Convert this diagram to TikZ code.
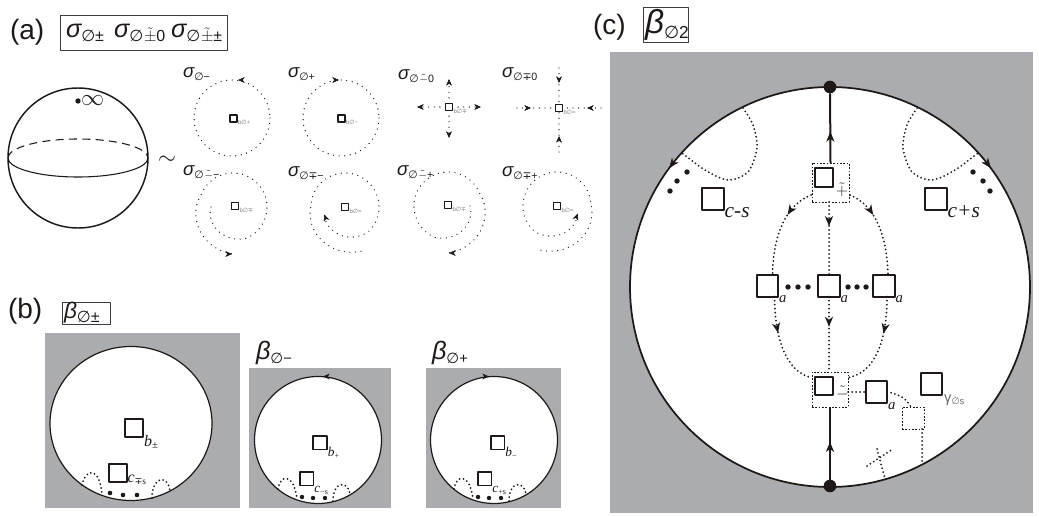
\documentclass[tikz,border=0pt]{standalone}
\usepackage{fontspec}
\setmainfont{Liberation Sans}
\newfontfamily\tms{Liberation Serif}
\newfontfamily\dvs{DejaVu Sans}
\usetikzlibrary{arrows.meta,decorations.markings,calc}
\definecolor{boxgray}{RGB}{171,172,176}
\definecolor{ink}{RGB}{30,25,22}
\newcommand{\fs}[1]{\fontsize{#1}{#1}\selectfont}
\newcommand{\emp}{{\dvs ∅}}
\newcommand{\mmp}{{\dvs ∓}}
\newcommand{\tpm}{\kern0.6pt\ensuremath{\tilde{\pm}}}
\newcommand{\tmi}{\kern0.6pt\ensuremath{\tilde{-}}}
\newcommand{\sbx}[2]{\raisebox{-0.3ex}{\fs{#1}\upshape #2}}
\newcommand{\sig}[3]{{\fs{#1}\itshape σ\sbx{#2}{#3}}}
\newcommand{\bet}[3]{{\fs{#1}\itshape β\sbx{#2}{#3}}}
\begin{document}
\begin{tikzpicture}[x=0.75pt, y=-0.75pt, line join=round, color=ink,
  declare function={spr(\q)=34-12*max(0,1-4*\q)+13*max(0,4*\q-3);},
  every node/.style={inner sep=0pt, outer sep=0pt},
  hdr/.style={draw=ink!85, line width=0.7pt},
  sqa/.style={draw, fill=white, line width=1.1pt, minimum size=5.3pt},
  sqb/.style={draw, fill=white, line width=1.5pt, minimum size=13.5pt},
  sqm/.style={draw, fill=white, line width=1.3pt, minimum size=10.3pt},
  sqc/.style={draw, fill=white, line width=1.6pt, minimum size=16pt},
  sqp/.style={draw, fill=white, line width=1.6pt, minimum size=14pt},
  dotA/.style={line width=1pt, line cap=round, dash pattern=on 0pt off 4.2pt},
  dotC/.style={line width=1.5pt, line cap=round, dash pattern=on 0pt off 3pt},
  dotbox/.style={draw, line width=0.7pt, dash pattern=on 1.2pt off 1.3pt},
  ahS/.style={postaction={decorate}, decoration={markings, mark=at position 0.5 with {\pgfsetdash{}{0pt}\arrow{Stealth[length=5pt,width=4.4pt,inset=1.4pt]}}}},
  ahC/.style={postaction={decorate}, decoration={markings, mark=at position #1 with {\pgfsetdash{}{0pt}\arrow{Stealth[length=7.5pt,width=6pt,inset=2.2pt]}}}},
  blob/.style={circle, fill, minimum size=#1},
  tiny/.style={font=\fs{4.5}, text=ink!55, anchor=north west},
  ital/.style={font={\tms\itshape\fs{#1}}, anchor=base west},
  panel/.style={anchor=west, font=\fs{21}},
]
\fill[white] (0,0) rectangle (1039,517);
\useasboundingbox (0,0) rectangle (1039,517);

% ================= (a)
\node[panel] (la) at (10,32) {(a)};
\draw[hdr] (60,15) rectangle (227,50);
\node[anchor=west] (sa1) at (66,33) {\sig{19}{12}{\emp±}};
\node[anchor=west] (sa2) at (114,33) {\sig{19}{12}{\emp\tpm0}};
\node[anchor=west] (sa3) at (171,33) {\sig{19}{12}{\emp\tpm±}};

% sphere
\draw[line width=1.1pt] (78,158) circle[radius=70];
\draw[line width=0.8pt] (148,158) arc[start angle=0, end angle=180, x radius=70, y radius=19];
\draw[line width=0.8pt, dash pattern=on 6pt off 4pt] (8,158) arc[start angle=180, end angle=360, x radius=70, y radius=19];
\node[blob=4pt] (infdot) at (78,101) {};
\node[anchor=west, font=\fs{16}] (inf) at (81,101) {$\infty$};
\node[font=\fs{18}] (tld) at (167,160) {$\sim$};

% circle 1
\draw[dotA] (232,118) circle[radius=38];
\path[ahS] (241,80) -- (235,80);
\node[sqa] (q1) at (233.5,118.5) {};
\node[tiny] (q1l) at ($(q1.south east)+(1,-1.5)$) {b\emp+};
\node[anchor=west] (s1) at (183,74) {\sig{14}{8}{\emp−}};

% circle 2
\draw[dotA] (341,118) circle[radius=38];
\path[ahS] (336,80) -- (342,80);
\node[sqa] (q2) at (341.5,118.5) {};
\node[tiny] (q2l) at ($(q2.south east)+(1,-1.5)$) {b\emp−};
\node[anchor=west] (s2) at (288,74) {\sig{14}{8}{\emp+}};

% circle 3 (source)
\node[sqa] (q3) at (449,107) {};
\draw[dotA] (q3.north) -- (449,80);
\draw[dotA] (q3.south) -- (449,137);
\draw[dotA] (q3.west) -- (418,107);
\draw[dotA] (q3.east) -- (480,107);
\path[ahS] (449,82) -- (449,76);
\path[ahS] (449,135) -- (449,141);
\path[ahS] (420,107) -- (414,107);
\path[ahS] (478,107) -- (484,107);
\node[tiny] (q3l) at ($(q3.south east)+(1,-1.5)$) {b\emp\mmp};
\node[anchor=west] (s3) at (398,77) {\sig{14}{8}{\emp\tmi0}};

% circle 4 (sink)
\draw[dotA] (559,68) -- (559,152);
\draw[dotA] (517,108) -- (601,108);
\path[ahS] (559,80) -- (559,86);
\path[ahS] (559,139) -- (559,133);
\path[ahS] (528,108) -- (534,108);
\path[ahS] (590,108) -- (584,108);
\node[sqa] (q4) at (559,108) {};
\node[tiny] (q4l) at ($(q4.south east)+(1,-1.5)$) {b\emp=};
\node[anchor=west] (s4) at (502,74) {\sig{14}{8}{\emp\mmp0}};

% circle 5
\draw[dotA] plot[domain=0:1, samples=160, smooth, variable=\u] ({233+spr(\u)*cos(180+450*\u)}, {207-spr(\u)*sin(180+450*\u)});
\path[ahS] (229,254) -- (235,254);
\node[sqa] (q5) at (235,206) {};
\node[tiny] (q5l) at ($(q5.south east)+(1,-1.5)$) {b\emp\mmp};
\node[anchor=west] (s5) at (183,173) {\sig{14}{8}{\emp\tmi−}};

% circle 6
\draw[dotA] plot[domain=0:1, samples=160, smooth, variable=\u] ({345+spr(1-\u)*cos(650-450*\u)}, {207-spr(1-\u)*sin(650-450*\u)});
\path[ahS] (325.3,217.3) -- (323.3,211.7);
\node[sqa] (q6) at (345,207) {};
\node[tiny] (q6l) at ($(q6.south east)+(1,-1.5)$) {b\emp=};
\node[anchor=west] (s6) at (288,173) {\sig{14}{8}{\emp\mmp−}};

% circle 7
\draw[dotA] plot[domain=0:1, samples=160, smooth, variable=\u] ({448+spr(\u)*cos(-450*\u)}, {206-spr(\u)*sin(-450*\u)});
\path[ahS] (452,253) -- (446,253);
\node[sqa] (q7) at (448,205) {};
\node[tiny] (q7l) at ($(q7.south east)+(1,-1.5)$) {b\emp\mmp};
\node[anchor=west] (s7) at (397,173) {\sig{14}{8}{\emp\tmi+}};

% circle 8
\draw[dotA] plot[domain=0:1, samples=160, smooth, variable=\u] ({557+spr(1-\u)*cos(-470+450*\u)}, {206-spr(1-\u)*sin(-470+450*\u)});
\path[ahS] (576.7,216.3) -- (578.7,210.7);
\node[sqa] (q8) at (557,206) {};
\node[tiny] (q8l) at ($(q8.south east)+(1,-1.5)$) {b\emp=};
\node[anchor=west] (s8) at (502,173) {\sig{14}{8}{\emp\mmp+}};

% ================= (b)
\node[panel] (lb) at (8,311) {(b)};
\draw[hdr] (62,302) rectangle (110,324);
\node[anchor=west] (hb) at (64,313) {\bet{17}{12}{\emp±}};

% box 1
\fill[boxgray] (45,333) rectangle (240,508);
\draw[line width=0.9pt, fill=white] (131,423.5) ellipse[x radius=81, y radius=77];
\draw[dotC] (82,485) .. controls (86,467) and (100,467) .. (102,495);
\draw[dotC] (152,498) .. controls (152,476) and (168,474) .. (170,491);
\fill (110,493) circle[radius=2.3];
\fill (123,495) circle[radius=2.3];
\fill (137,495) circle[radius=2.3];
\node[sqb] (b1) at (134,427.5) {};
\node[ital=12] (b1l) at ($(b1.south east)+(1,10)$) {b\sbx{8}{±}};
\node[sqb] (c1) at (117.5,472.5) {};
\node[ital=12] (c1l) at ($(c1.south east)+(1,1)$) {c\sbx{7}{\mmp s}};

% box 2
\node[anchor=west] (hb2) at (256,353) {\bet{19}{11}{\emp−}};
\fill[boxgray] (249,368) rectangle (391,508);
\draw[line width=0.9pt, fill=white] (318,440) circle[radius=63.5];
\path[ahS] (326,376.5) -- (320,376.5);
\draw[dotC] (278,489) .. controls (280,474) and (294,473) .. (297,499);
\draw[dotC] (333,501) .. controls (333,481) and (348,480) .. (350,494);
\fill (302,497) circle[radius=2.2];
\fill (313,498) circle[radius=2.2];
\fill (325,498) circle[radius=2.2];
\node[sqm] (b2) at (320,442.5) {};
\node[ital=10] (b2l) at ($(b2.south east)+(1,7)$) {b\sbx{6}{+}};
\node[sqm] (c2) at (306.5,478.5) {};
\node[ital=10] (c2l) at ($(c2.south east)+(1,7)$) {c\sbx{6}{−s}};

% box 3
\node[anchor=west] (hb3) at (432,353) {\bet{19}{11}{\emp+}};
\fill[boxgray] (426,368) rectangle (561,508);
\draw[line width=0.9pt, fill=white] (494,440) circle[radius=63.5];
\path[ahS] (486,376.5) -- (492,376.5);
\draw[dotC] (454,489) .. controls (456,474) and (470,473) .. (473,499);
\draw[dotC] (509,501) .. controls (509,481) and (524,480) .. (526,494);
\fill (478,497) circle[radius=2.2];
\fill (489,498) circle[radius=2.2];
\fill (501,498) circle[radius=2.2];
\node[sqm] (b3) at (497.5,442.5) {};
\node[ital=10] (b3l) at ($(b3.south east)+(1,7)$) {b\sbx{6}{−}};
\node[sqm] (c3) at (484.5,478.5) {};
\node[ital=10] (c3l) at ($(c3.south east)+(1,7)$) {c\sbx{6}{+s}};

% ================= (c)
\node[panel] (lc) at (593,27) {(c)};
\draw[hdr] (643,7) rectangle (688,42);
\node[anchor=west] (hc) at (645,25) {\bet{25}{13}{\emp2}};

\fill[boxgray] (610,52) rectangle (1033,513);
\draw[line width=1.3pt, fill=white] (830,287) circle[radius=200];

% upper loops
\draw[dotC] plot[smooth] coordinates {(743,108) (753,125) (757,148) (748,172) (728,180) (705,170) (682,153)};
\draw[dotC] plot[smooth] coordinates {(917,108) (907,125) (903,148) (912,172) (932,180) (955,170) (978,153)};
\path[ahC=0.5] (671,165.7) -- (667.4,170.5);
\path[ahC=0.5] (989,165.7) -- (992.6,170.5);
\fill (687,172) circle[radius=2.7];
\fill (677,181) circle[radius=2.7];
\fill (670,191) circle[radius=2.7];
\fill (973,172) circle[radius=2.7];
\fill (983,181) circle[radius=2.7];
\fill (990,191) circle[radius=2.7];
\node[sqc] (cs1) at (713,199) {};
\node[ital=16] (cs1l) at ($(cs1.south east)+(1,8)$) {c-s};
\node[sqc] (cs2) at (936,199) {};
\node[ital=16] (cs2l) at ($(cs2.south east)+(1,8)$) {c+s};

% central structure
\node[dotbox, minimum width=27.75pt, minimum height=29.25pt] (bp) at (830.5,182.5) {};
\node[sqp] (sp) at (824,177.5) {};
\node[font=\fs{13}] (spl) at (842,190) {$\tilde{+}$};
\node[dotbox, minimum width=27pt, minimum height=26.25pt] (bq) at (830,389.5) {};
\node[sqp] (sq) at (824,386) {};
\node[font=\fs{13}] (sql) at (842.5,393) {$\tilde{-}$};

\node[sqc] (sqL) at (767.5,286) {};
\node[sqc] (sqM) at (829,286) {};
\node[sqc] (sqR) at (884,286) {};
\node[ital=11] (sqLl) at ($(sqL.south east)+(1,6)$) {a};
\node[ital=11] (sqMl) at ($(sqM.south east)+(1,6)$) {a};
\node[ital=11] (sqRl) at ($(sqR.south east)+(1,6)$) {a};
\fill (788,287) circle[radius=2.7];
\fill (798,287) circle[radius=2.7];
\fill (808,287) circle[radius=2.7];
\fill (848,287) circle[radius=2.7];
\fill (857,287) circle[radius=2.7];
\fill (866,287) circle[radius=2.7];

\node[blob=9.5pt] (td) at (830,87) {};
\node[blob=9.5pt] (bd) at (830,486) {};
\draw[line width=1.5pt, ahC=0.45] (bp.north) -- (td);
\draw[line width=1.5pt, ahC=0.52] (bd) -- (bq.south);

\draw[dotC, ahC=0.33] ($(bp.south west)+(-1,-7)$) .. controls (786,205) and (773,235) .. ($(sqL.north)+(5,0)$);
\draw[dotC, ahC=0.33] (sqM |- bp.south) -- (sqM.north);
\draw[dotC, ahC=0.33] ($(bp.south east)+(1,-7)$) .. controls (875,205) and (887,235) .. ($(sqR.north)+(4,0)$);
\draw[dotC, ahC=0.38] ($(sqL.south)+(7,0)$) .. controls (775,350) and (792,374) .. ($(bq.west)+(0,-12)$);
\draw[dotC, ahC=0.4] (sqM.south) -- (sqM |- bq.north);
\draw[dotC, ahC=0.38] ($(sqR.south)+(3,0)$) .. controls (887,350) and (870,374) .. ($(bq.east)+(0,-12)$);

% lower right
\node[sqc] (sqA) at (876.5,392) {};
\node[ital=11] (sqAl) at ($(sqA.south east)+(1,7)$) {a};
\node[sqc] (sqG) at (931.5,384) {};
\node[anchor=base west, text=ink!65] (sqGl) at ($(sqG.south east)+(2,8)$) {{\fs{11}γ}\sbx{7}{\emp s}};
\node[dotbox, minimum size=16.5pt] (bR) at (913,418) {};
\draw[dotC] (bq.east |- sqA) -- (sqA.west);
\draw[dotC] (sqA.east) .. controls (899,394) and (907,399) .. ($(bR.north)+(-2,0)$);
\coordinate (rim) at (922,464.5);
\draw[dotC] ($(bR.south)+(9,0)$) -- (rim);
\coordinate (x1) at (867,466);
\coordinate (x2) at (893,449);
\coordinate (x3) at (877,449);
\coordinate (x4) at (885,479);
\draw[dotC] (x1) -- (x2);
\draw[dotC] (x3) -- (x4);
\end{tikzpicture}
\end{document}
